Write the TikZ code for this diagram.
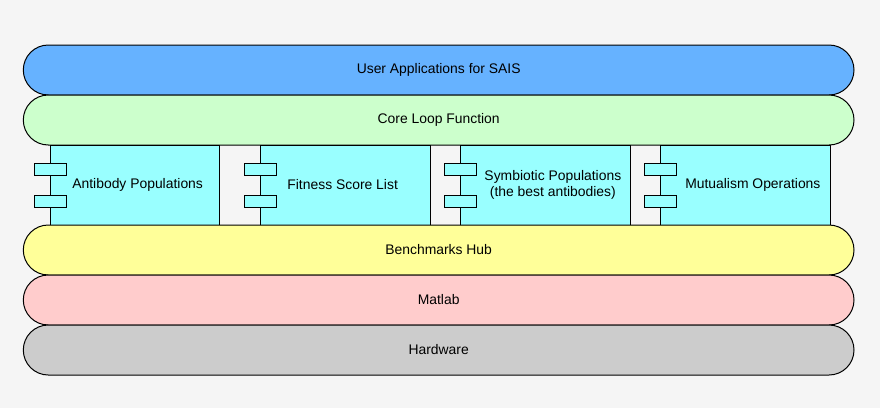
\documentclass[tikz,border=0pt]{standalone}
\usepackage{fontspec}
\setmainfont{Liberation Sans}
\usetikzlibrary{shapes.misc}
\usetikzlibrary{positioning}

\definecolor{pagebg}{HTML}{F5F5F5}
\definecolor{appblue}{HTML}{66B2FF}
\definecolor{coregreen}{HTML}{CCFFCC}
\definecolor{compcyan}{HTML}{99FFFF}
\definecolor{benchyellow}{HTML}{FFFF99}
\definecolor{matlabpink}{HTML}{FFCCCC}
\definecolor{hwgray}{HTML}{CCCCCC}

\begin{document}
\begin{tikzpicture}[x=1pt,y=-1pt,font=\fontsize{13.9}{16.6}\selectfont,
    layer/.style={draw, rounded rectangle, minimum width=830.7pt, minimum height=50pt, inner sep=0pt, outer sep=0pt, line width=1pt},
    comp/.style={draw, fill=compcyan, minimum width=169.3pt, minimum height=80pt, inner sep=0pt, outer sep=0pt, line width=1pt, align=center},
    tab/.style={draw, fill=compcyan, minimum width=32pt, minimum height=11.7pt, inner sep=0pt, outer sep=0pt, line width=1pt}]
    % Page:
    \fill [pagebg] (0,0) rectangle (880,408);
    \useasboundingbox (0,0) rectangle (880,408);

    % Upper layers:
    \node [layer, fill=appblue] (apps) at (438.65,70) {User Applications for SAIS};
    \node [layer, fill=coregreen, below=0pt of apps] (core) {Core Loop Function};

    % Components:
    \node [comp, anchor=north west] (antibody) at (50,145) {\hspace{6pt}Antibody Populations};
    \node [comp, right=41.4pt of antibody] (fitness) {Fitness Score List\hspace{5.4pt}};
    \node [comp, right=30.7pt of fitness] (symbiotic) {\hspace{15pt}Symbiotic Populations\\\hspace{15pt}(the best antibodies)};
    \node [comp, right=30.7pt of symbiotic] (mutualism) {\hspace{15pt}Mutualism Operations};
    \foreach \c in {antibody,fitness,symbiotic,mutualism}{%
        \node [tab, yshift=15.8pt] (\c-top) at (\c.west) {};
        \node [tab, yshift=-16.5pt] (\c-bot) at (\c.west) {};
    }

    % Lower layers:
    \node [layer, fill=benchyellow, below=80pt of core] (bench) {Benchmarks Hub};
    \node [layer, fill=matlabpink, below=0pt of bench] (matlab) {Matlab};
    \node [layer, fill=hwgray, below=0pt of matlab] (hardware) {Hardware};
\end{tikzpicture}
\end{document}
